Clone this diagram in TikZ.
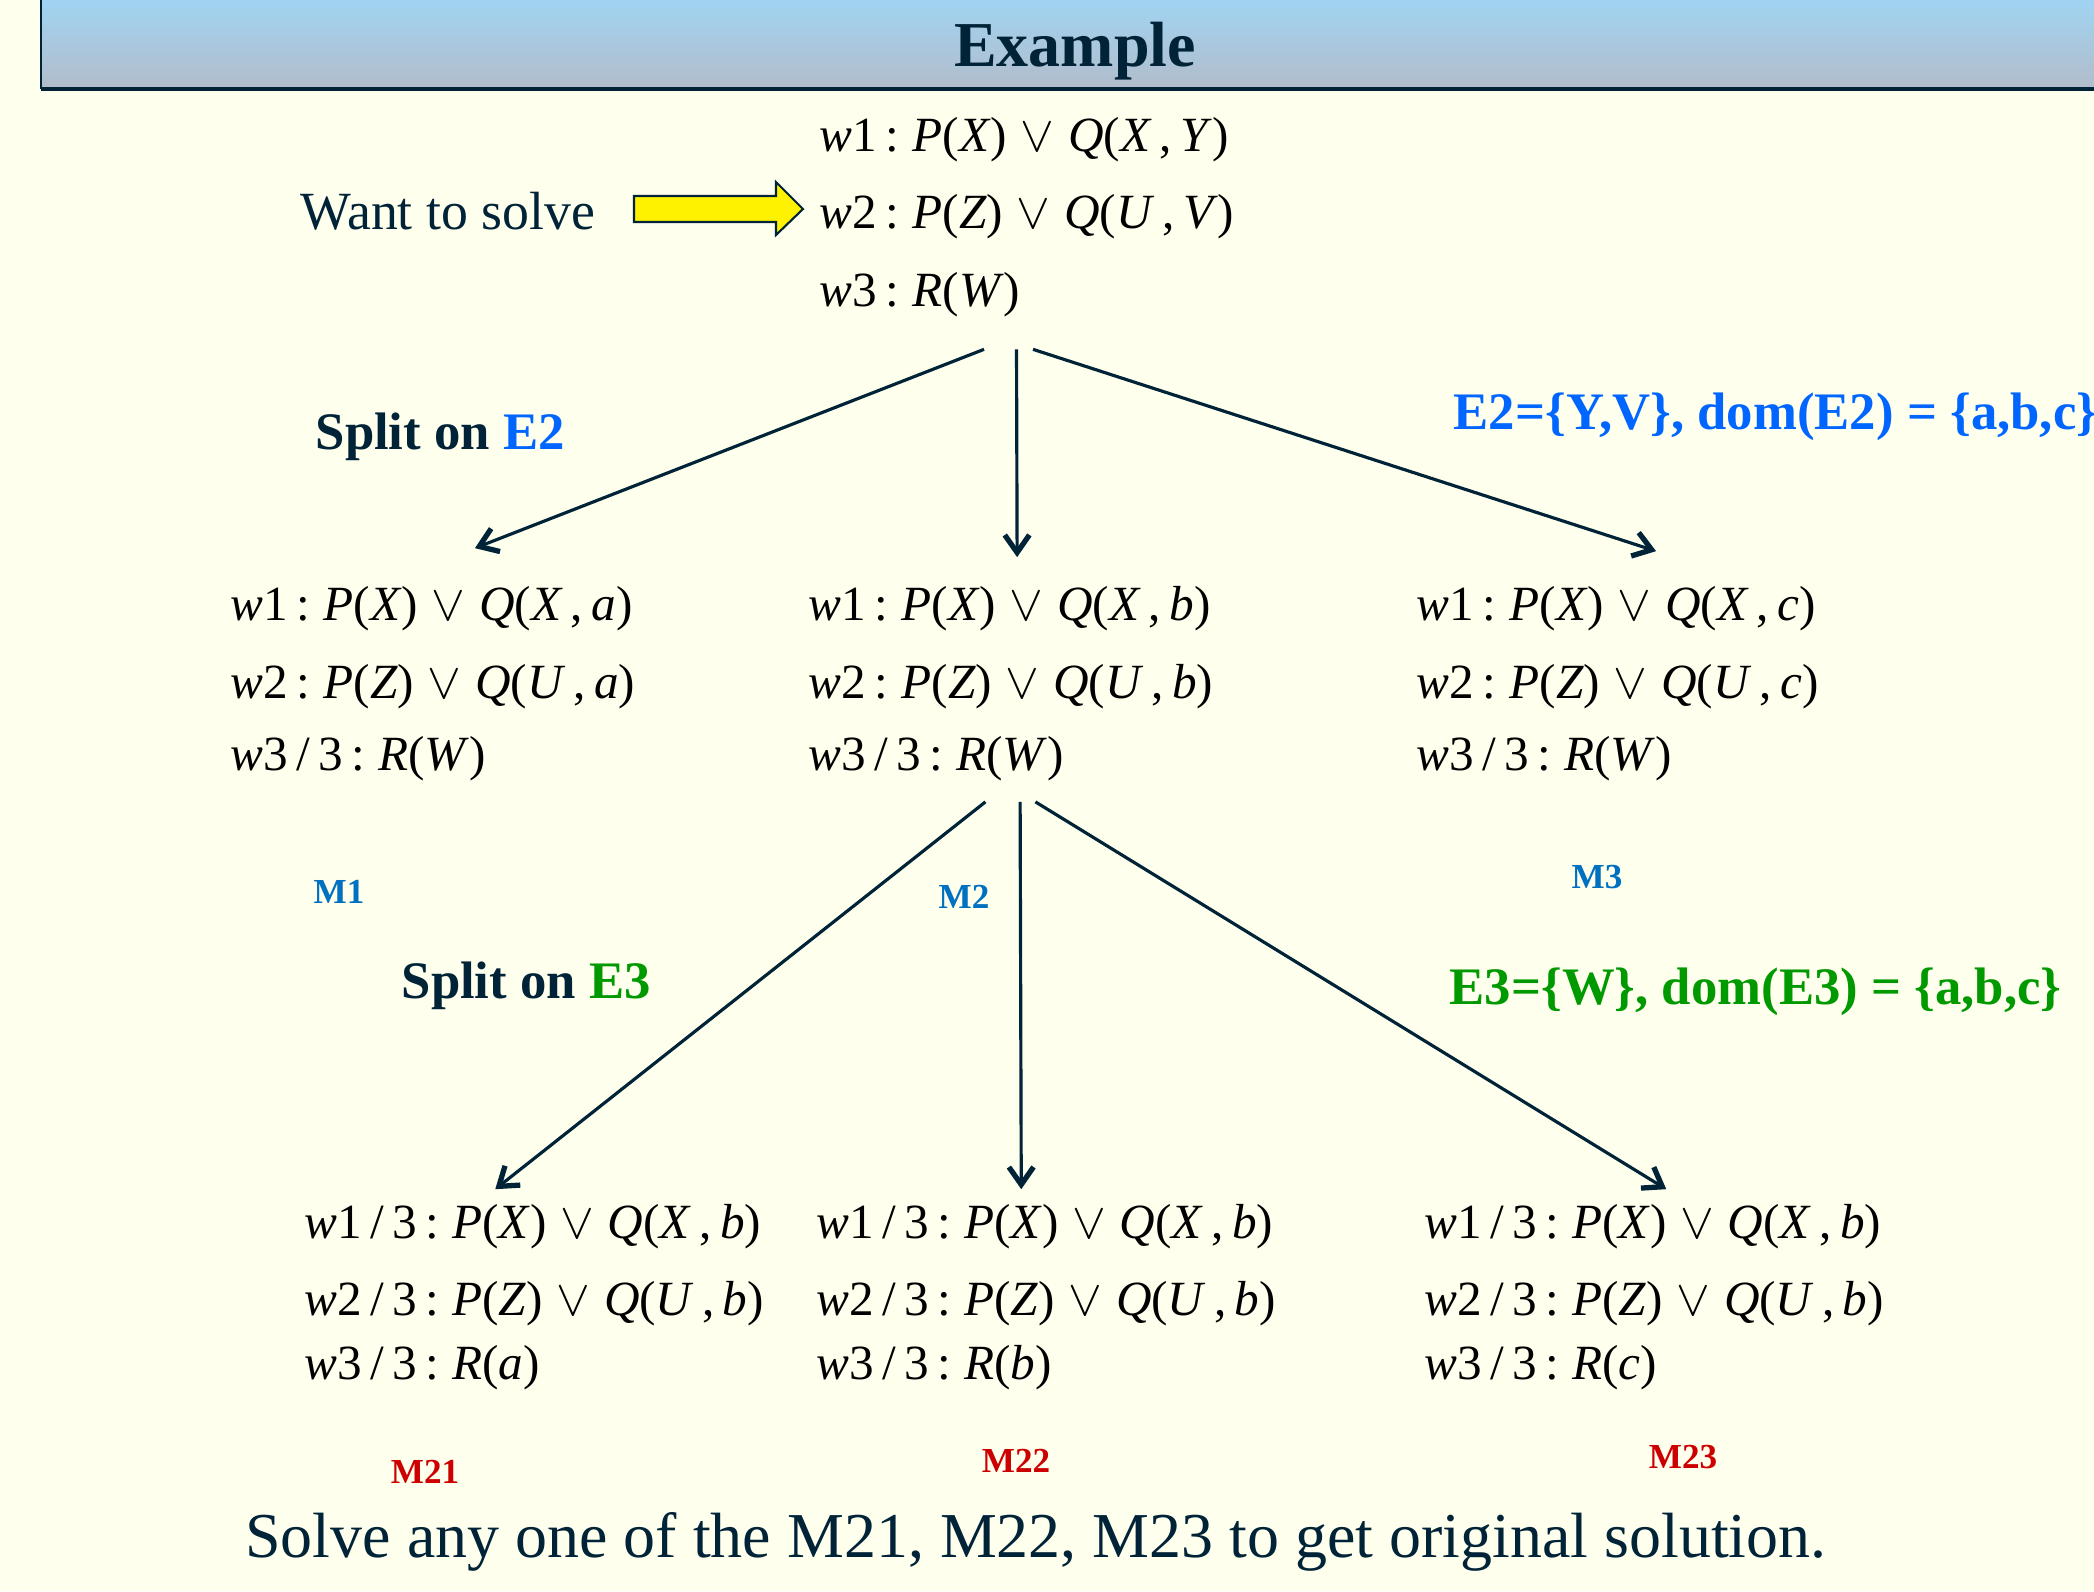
\documentclass[tikz,border=0pt]{standalone}
\usepackage{fontspec}
\setmainfont{Liberation Serif}
\usetikzlibrary{arrows.meta,positioning}

\definecolor{ink}{RGB}{0,35,55}
\definecolor{paper}{RGB}{255,255,238}
\definecolor{etwo}{RGB}{0,102,255}
\definecolor{ethree}{RGB}{0,153,0}
\definecolor{mblue}{RGB}{0,112,192}
\definecolor{mred}{RGB}{204,0,0}
\definecolor{bandtop}{RGB}{160,212,242}
\definecolor{bandbot}{RGB}{178,188,202}

\newcommand{\wl}[1]{\textit{w}#1\,:\;}
\newcommand{\wq}[1]{\textit{w}#1\,/\,3\,:\;}
\newcommand{\clP}[1]{\textit{P}(\textit{#1})}
\newcommand{\clQ}[2]{\textit{Q}(\textit{#1}\,,\,\textit{#2})}
\newcommand{\clR}[1]{\textit{R}(\textit{#1})}
\newcommand{\disj}{\;$\vee$\;}

\begin{document}
\begin{tikzpicture}[
  x=0.1mm, y=-0.1mm,
  formula/.style={anchor=west, align=left, inner sep=0pt, font=\fontsize{14}{22}\selectfont},
  split/.style={anchor=west, inner sep=0pt, font=\fontsize{15}{18}\selectfont\bfseries, text=ink},
  model/.style={inner sep=0pt, font=\fontsize{10}{12}\selectfont\bfseries},
  arr/.style={-{Straight Barb[length=5pt,width=7pt,line width=1.5pt]}, line width=0.9pt, draw=ink}
]

% background
\fill[paper] (0,0) rectangle (2094,1591);
\useasboundingbox (0,0) rectangle (2094,1591);

% title band
\shade[top color=bandtop, bottom color=bandbot] (41,0) rectangle (2094,89);
\draw[ink, line width=0.5pt] (41,0) -- (41,89);
\draw[ink, line width=1pt] (41,89) -- (2094,89);
\node[font=\fontsize{18.2}{20}\selectfont\bfseries, text=ink] (title) at (1075,51) {Example};

% problem to solve
\node[anchor=west, inner sep=0pt, font=\fontsize{15.3}{18}\selectfont, text=ink] (want) at (300,211) {Want to solve};
\filldraw[fill=yellow, draw=ink, line width=0.6pt]
  (634,196) -- (776,196) -- (776,182) -- (803,209) -- (776,235) -- (776,222) -- (634,222) -- cycle;
\node[formula] (f0) at (819,217) {\wl{1}\clP{X}\disj\clQ{X}{Y}\\ \wl{2}\clP{Z}\disj\clQ{U}{V}\\ \wl{3}\clR{W}};

% first split
\node[split] (s2) at (315,437) {Split on \textcolor{etwo}{E2}};
\node[split, text=etwo] (e2) at (1453,417) {E2=\{Y,V\}, dom(E2) = \{a,b,c\}};

\node[formula] (m1) at (230,684) {\wl{1}\clP{X}\disj\clQ{X}{a}\\ \wl{2}\clP{Z}\disj\clQ{U}{a}\\[-1.4pt] \wq{3}\clR{W}};
\node[formula] (m2) at (808,684) {\wl{1}\clP{X}\disj\clQ{X}{b}\\ \wl{2}\clP{Z}\disj\clQ{U}{b}\\[-1.4pt] \wq{3}\clR{W}};
\node[formula] (m3) at (1416,684) {\wl{1}\clP{X}\disj\clQ{X}{c}\\ \wl{2}\clP{Z}\disj\clQ{U}{c}\\[-1.4pt] \wq{3}\clR{W}};

\draw[arr] ([xshift=-4.3mm,yshift=-3.2mm]f0.south) -- ([xshift=4.2mm,yshift=3.8mm]m1.north);
\draw[arr] ([xshift=-1.05mm,yshift=-3.2mm]f0.south) -- ([xshift=0.62mm,yshift=2.9mm]m2.north);
\draw[arr] ([xshift=0.6mm,yshift=-3.2mm]f0.south) -- ([xshift=3.85mm,yshift=3.5mm]m3.north);

\node[model, text=mblue] (M1) at (339,892) {M1};
\node[model, text=mblue] (M2) at (964,897) {M2};
\node[model, text=mblue] (M3) at (1597,877) {M3};

% second split
\node[split] (s3) at (401,986) {Split on \textcolor{ethree}{E3}};
\node[split, text=ethree] (e3) at (1449,992) {E3=\{W\}, dom(E3) = \{a,b,c\}};

\node[formula] (b1) at (304,1297) {\wq{1}\clP{X}\disj\clQ{X}{b}\\ \wq{2}\clP{Z}\disj\clQ{U}{b}\\[-3.7pt] \wq{3}\clR{a}};
\node[formula] (b2) at (816,1297) {\wq{1}\clP{X}\disj\clQ{X}{b}\\ \wq{2}\clP{Z}\disj\clQ{U}{b}\\[-3.7pt] \wq{3}\clR{b}};
\node[formula] (b3) at (1424,1297) {\wq{1}\clP{X}\disj\clQ{X}{b}\\ \wq{2}\clP{Z}\disj\clQ{U}{b}\\[-3.7pt] \wq{3}\clR{c}};

\draw[arr] ([xshift=-2.55mm,yshift=-2.0mm]m2.south) -- ([xshift=-3.9mm,yshift=1.4mm]b1.north);
\draw[arr] ([xshift=0.92mm,yshift=-2.0mm]m2.south) -- ([xshift=-2.5mm,yshift=1.4mm]b2.north);
\draw[arr] ([xshift=2.45mm,yshift=-2.0mm]m2.south) -- ([xshift=1.2mm,yshift=1.4mm]b3.north);

\node[model, text=mred] (M21) at (425,1472) {M21};
\node[model, text=mred] (M22) at (1016,1461) {M22};
\node[model, text=mred] (M23) at (1683,1457) {M23};

% conclusion
\node[font=\fontsize{18.2}{20}\selectfont, text=ink] (note) at (1036,1542) {Solve any one of the M21, M22, M23 to get original solution.};

\end{tikzpicture}
\end{document}
